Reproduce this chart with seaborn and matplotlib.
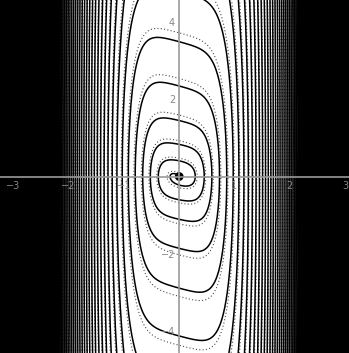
import numpy as np
import pandas as pd
import matplotlib
matplotlib.use("Agg")
import matplotlib.pyplot as plt
import seaborn as sns

# ========== 1. Model parameters ==========
# potential V(x) = c2*x^2 + c4*x^4 + c6*x^6
pot_coef = [0.3, 3.0, 8.0]
# drag = coul*tanh(y/eps) + k*y|y|/(s^2 + y^2)^p
coul_damp = 0.08
coul_eps = 0.05
sat_damp = 0.68
sat_speed = 2.0
sat_power = 0.67

# where each trajectory crosses the upper y axis
solid_anchor = [0.0, 3.49]
dotted_anchor = [0.0, 3.72]
max_energy = 10700.0   # outer edge of the plotted spiral

x_ticks = [-3, -2, -1, 1, 2, 3]
x_labels = ["\u22123", "\u22122", "\u22121", "1", "2", "3"]
y_ticks = [-4, -2, 2, 4]
y_labels = ["\u22124", "\u22122", "2", "4"]

x_range = (-3.24, 3.07)
y_range = (-4.57, 4.57)


def potential(x):
    c2, c4, c6 = pot_coef
    return c2 * x**2 + c4 * x**4 + c6 * x**6


def deriv(x, y):
    c2, c4, c6 = pot_coef
    force = -(2 * c2 * x + 4 * c4 * x**3 + 6 * c6 * x**5)
    drag = coul_damp * np.tanh(y / coul_eps) \
        + sat_damp * y * abs(y) / (sat_speed**2 + y * y) ** sat_power
    return y, force - drag


def integrate(start, direction, max_steps=400000):
    x, y = start
    xs, ys = [x], [y]
    for _ in range(max_steps):
        e = 0.5 * y * y + potential(x)
        if e < 1e-4 or e > max_energy:
            break
        dt = direction * 0.004 / (1 + np.sqrt(e) / 20)
        k1x, k1y = deriv(x, y)
        k2x, k2y = deriv(x + 0.5 * dt * k1x, y + 0.5 * dt * k1y)
        k3x, k3y = deriv(x + 0.5 * dt * k2x, y + 0.5 * dt * k2y)
        k4x, k4y = deriv(x + dt * k3x, y + dt * k3y)
        x += dt / 6 * (k1x + 2 * k2x + 2 * k3x + k4x)
        y += dt / 6 * (k1y + 2 * k2y + 2 * k3y + k4y)
        xs.append(x)
        ys.append(y)
    return xs, ys


def trajectory(anchor):
    bx, by = integrate(anchor, -1)
    fx, fy = integrate(anchor, 1)
    return pd.DataFrame({"x": bx[::-1] + fx[1:], "y": by[::-1] + fy[1:]})


solid = trajectory(solid_anchor)
dotted = trajectory(dotted_anchor)

# ========== 2. Plot ==========
sns.set_style("white")
fig = plt.figure(figsize=(3.49, 3.53), dpi=100)
ax = fig.add_axes([0, 0, 1, 1])

sns.lineplot(data=dotted, x="x", y="y", sort=False, estimator=None,
             color="0.3", lw=0.8, linestyle=(0, (1, 2)), ax=ax, zorder=1)
sns.lineplot(data=solid, x="x", y="y", sort=False, estimator=None,
             color="black", lw=1.1, ax=ax, zorder=1.5)
sns.scatterplot(x=[0], y=[0], color="black", s=40, ax=ax, zorder=3,
                edgecolor="none")

ax.set_xlim(*x_range)
ax.set_ylim(*y_range)
ax.set_xlabel("")
ax.set_ylabel("")

ax.spines["left"].set_position("zero")
ax.spines["bottom"].set_position("zero")
ax.spines["top"].set_visible(False)
ax.spines["right"].set_visible(False)
for s in ["left", "bottom"]:
    ax.spines[s].set_color("#9a9a9a")
    ax.spines[s].set_linewidth(1.2)
    ax.spines[s].set_zorder(4)

ax.set_xticks(x_ticks)
ax.set_xticklabels(x_labels)
ax.set_yticks(y_ticks)
ax.set_yticklabels(y_labels)
ax.set_xticks(np.arange(-3.0, 3.01, 0.2), minor=True)
ax.set_yticks(np.arange(-4.5, 4.51, 0.5), minor=True)
ax.tick_params(axis="both", which="major", direction="inout", length=4,
               width=0.8, color="#9a9a9a", labelsize=7, labelcolor="#888888")
ax.tick_params(axis="both", which="minor", direction="inout", length=2,
               width=0.6, color="#9a9a9a")
ax.tick_params(axis="x", pad=1)
ax.tick_params(axis="y", pad=1)
ax.set_axisbelow(False)
ax.grid(False)

fig.savefig("out.png", dpi=100, facecolor="white")
